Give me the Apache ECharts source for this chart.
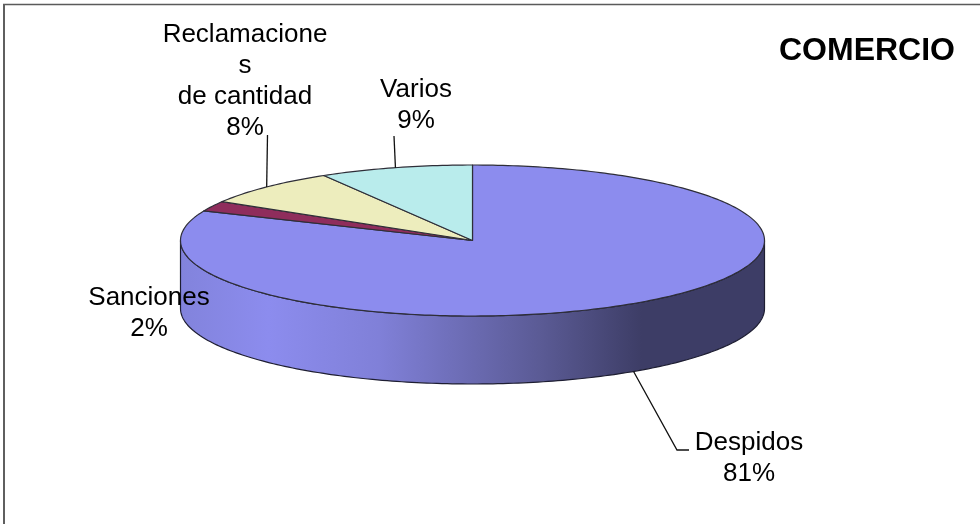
<!DOCTYPE html>
<html>
<head>
<meta charset="utf-8">
<style>html,body{margin:0;padding:0;background:#fff}#c{width:980px;height:524px}</style>
<script src="https://cdn.jsdelivr.net/npm/echarts@6/dist/echarts.min.js"></script>
</head>
<body>
<div id="c"></div>
<script>
const categories = ['Despidos', 'Sanciones', 'Reclamaciones\nde cantidad', 'Varios'];
const displayNames = ['Despidos', 'Sanciones', 'Reclamacione\ns\nde cantidad', 'Varios'];
const values = [81.4, 2.2, 7.9, 8.5];
const colors = ['#8c8cee', '#8f2d5c', '#ededbd', '#b9ecec'];
const titleText = 'COMERCIO';

// layout of the pseudo-3D pie
const cx = 472.5, cy = 240.5, rx = 292, ry = 75.5, depth = 68;
const labelCenters = [[749, 458], [149, 313], [245, 81.5], [416, 105.5]];
const leaderEnds = [[[677, 450], [689, 450]], null, [[267.5, 135]], [[394, 136]]];

const total = values.reduce((a, b) => a + b, 0);
const toPt = (deg, dy) => {
  const a = deg * Math.PI / 180;
  return [cx + rx * Math.sin(a), cy - ry * Math.cos(a) + (dy || 0)];
};
const range = (s, e) => {
  const pts = [], n = Math.max(2, Math.ceil((e - s) / 1));
  for (let i = 0; i <= n; i++) pts.push(s + (e - s) * i / n);
  return pts;
};
const startAngle = i => values.slice(0, i).reduce((a, b) => a + b, 0) / total * 360;
const endAngle = i => startAngle(i + 1);

const sideFill = new echarts.graphic.LinearGradient(cx - rx, 0, cx + rx, 0, [
  { offset: 0, color: '#8283dc' },
  { offset: 0.15, color: '#8c8cee' },
  { offset: 0.34, color: '#8080d8' },
  { offset: 0.62, color: '#5a5a94' },
  { offset: 0.79, color: '#3d3d66' },
  { offset: 1, color: '#3d3d66' }
], true);
sideFill.global = true;

const data = categories.map((c, i) => ({ name: c, value: [i, values[i]] }));

function renderWalls(params, api) {
  const i = api.value(0);
  const s = Math.max(startAngle(i), 90), e = Math.min(endAngle(i), 270);
  if (e <= s) return { type: 'group', children: [] };
  const arc = range(s, e);
  const pts = arc.map(d => toPt(d, 0)).concat(arc.slice().reverse().map(d => toPt(d, depth)));
  return {
    type: 'polygon',
    shape: { points: pts },
    style: { fill: sideFill, stroke: '#1e1e32', lineWidth: 1.2 }
  };
}
function renderTops(params, api) {
  const i = api.value(0);
  const pts = [[cx, cy]].concat(range(startAngle(i), endAngle(i)).map(d => toPt(d, 0)));
  return {
    type: 'polygon',
    shape: { points: pts },
    style: { fill: colors[i], stroke: '#2e2e38', lineWidth: 1.2, lineJoin: 'round' }
  };
}
function renderLabels(params, api) {
  const i = api.value(0);
  const mid = (startAngle(i) + endAngle(i)) / 2;
  const front = mid > 90 && mid < 270;
  const children = [];
  if (leaderEnds[i]) {
    const start = toPt(mid, front ? depth : 0);
    children.push({
      type: 'polyline',
      shape: { points: [start].concat(leaderEnds[i]) },
      style: { fill: 'none', stroke: '#111', lineWidth: 1.3 }
    });
  }
  children.push({
    type: 'text',
    x: labelCenters[i][0],
    y: labelCenters[i][1],
    style: {
      text: displayNames[i] + '\n' + Math.round(values[i] / total * 100) + '%',
      fill: '#000',
      font: '26px "Liberation Sans", Arial, sans-serif',
      lineHeight: 31,
      align: 'center',
      verticalAlign: 'middle'
    }
  });
  return { type: 'group', children };
}

const chart = echarts.init(document.getElementById('c'), null, { renderer: 'canvas' });
const customBase = { type: 'custom', coordinateSystem: 'none', silent: true, animation: false, data: data };
chart.setOption({
  backgroundColor: '#fff',
  animation: false,
  title: {
    text: titleText, left: 862, top: 46, textAlign: 'center', textVerticalAlign: 'middle',
    textStyle: { fontFamily: '"Liberation Sans", Arial, sans-serif', fontWeight: 'bold', fontSize: 32, color: '#000' }
  },
  graphic: [
    { type: 'line', shape: { x1: 3, y1: 4.5, x2: 980, y2: 4.5 }, style: { stroke: '#5a5a5a', lineWidth: 1.3 } },
    { type: 'line', shape: { x1: 4, y1: 4, x2: 4, y2: 524 }, style: { stroke: '#5f5f5f', lineWidth: 2 } }
  ],
  series: [
    Object.assign({}, customBase, { name: 'walls', z: 2, renderItem: renderWalls }),
    Object.assign({}, customBase, { name: 'tops', z: 3, renderItem: renderTops }),
    Object.assign({}, customBase, { name: 'labels', z: 4, renderItem: renderLabels })
  ]
});
</script>
</body>
</html>
